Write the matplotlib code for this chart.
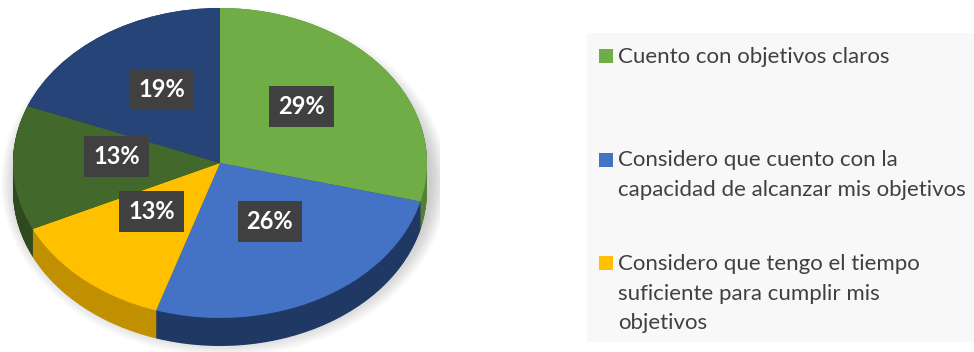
import matplotlib.pyplot as plt
from matplotlib.patches import Rectangle, Ellipse
import numpy as np

# Datos del gráfico
categorias = ['Cuento con objetivos claros',
              'Considero que cuento con la\ncapacidad de alcanzar mis objetivos',
              'Considero que tengo el tiempo\nsuficiente para cumplir mis\nobjetivos']
porcentajes = [29, 26, 13, 13, 19]
colores = ['#70ad47', '#4472c4', '#ffc000', '#43682b', '#264478']
colores_lado = ['#557f36', '#1f3864', '#c09000', '#2f4a1f', '#1b3157']

W, H = 974, 352
fig = plt.figure(figsize=(W / 100, H / 100), dpi=100)
ax = fig.add_axes([0, 0, 440 / W, 1])

# Sombra difusa detrás del pastel
for k in range(14):
    ax.add_patch(Ellipse((0.02, -0.12), 2.0 + 0.012 * k, 2.0 + 0.02 * k,
                         facecolor='#808080', alpha=0.03, linewidth=0, zorder=0))

# Lado del pastel (efecto 3D)
grosor = 28 / 155
for dz in np.linspace(grosor, 0, 40):
    ax.pie(porcentajes, colors=colores_lado, startangle=90, counterclock=False,
           center=(0, -dz), wedgeprops=dict(linewidth=0))

# Cara superior
wedges, _, autotexts = ax.pie(porcentajes, colors=colores, startangle=90,
                              counterclock=False, autopct='%1.0f%%',
                              pctdistance=0.5, wedgeprops=dict(linewidth=0))
for t in autotexts:
    x, y = t.get_position()
    t.set_position((x, y + 0.06))
    t.set_color('white')
    t.set_fontsize(17)
    t.set_fontweight('bold')
    t.set_family('Lato')
    t.set_bbox(dict(boxstyle='square,pad=0.38', facecolor='#404040', edgecolor='none'))

ax.set_aspect('auto')
ax.set_xlim(-220 / 207, 220 / 207)
ax.set_ylim(-189 / 155, 163 / 155)
ax.axis('off')

# Leyenda
fig.patches.append(Rectangle((587 / W, 1 - 342 / H), (W - 587) / W, (342 - 33) / H,
                             transform=fig.transFigure, facecolor='#f8f8f8',
                             edgecolor='none', zorder=0))
for i, texto in enumerate(categorias):
    base = 63 + i * 103.5
    fig.patches.append(Rectangle((599 / W, 1 - base / H), 14 / W, 14 / H,
                                 transform=fig.transFigure, facecolor=colores[i],
                                 edgecolor='none'))
    for j, linea in enumerate(texto.split('\n')):
        fig.text(618 / W, 1 - (base + j * 29.5) / H, linea, fontsize=16,
                 family='Lato', color='#404040', va='baseline', ha='left')

fig.savefig('out.png', dpi=100)
